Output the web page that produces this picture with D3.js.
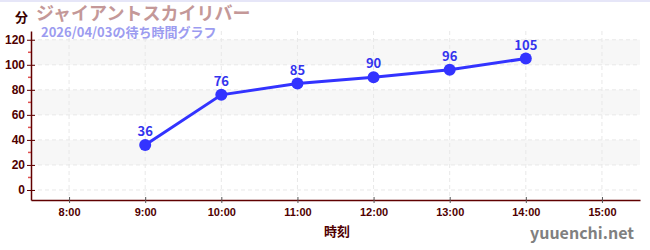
<!DOCTYPE html>
<html>
<head>
<meta charset="utf-8">
<script src="https://cdn.jsdelivr.net/npm/d3@7"></script>
<style>
  body { margin: 0; background: #fff; }
  svg { display: block; font-family: "Noto Sans CJK JP", "Noto Sans", sans-serif; }
</style>
</head>
<body>
<div id="chart"></div>
<script>
// wait times
var hours = [9, 10, 11, 12, 13, 14];
var waits = [36, 76, 85, 90, 96, 105];
var tickHours = [8, 9, 10, 11, 12, 13, 14, 15];
var yTicks = [0, 20, 40, 60, 80, 100, 120];
var minorTicks = [10, 30, 50, 70, 90, 110];
var bands = [[20, 40], [60, 80], [100, 120]];

var W = 650, H = 250;
var m = { left: 31, right: 10, top: 31, bottom: 50 };

var svg = d3.select("#chart").append("svg").attr("width", W).attr("height", H);

// thin top border
svg.append("rect").attr("x", 0).attr("y", 0).attr("width", W).attr("height", 2).attr("fill", "#e6e6f8");

var x = d3.scaleLinear().domain([7.5, 15.5]).range([m.left, W - m.right]);
var y = d3.scaleLinear().domain([-8, 127]).range([H - m.bottom, m.top]);

// background bands
svg.selectAll("rect.band").data(bands).enter().append("rect")
    .attr("class", "band")
    .attr("x", m.left).attr("width", W - m.right - m.left)
    .attr("y", function (d) { return y(d[1]); })
    .attr("height", function (d) { return y(d[0]) - y(d[1]); })
    .attr("fill", "#f7f7f7");

// grid lines
svg.selectAll("line.hgrid").data(yTicks).enter().append("line")
    .attr("x1", m.left).attr("x2", W - m.right)
    .attr("y1", function (d) { return y(d); }).attr("y2", function (d) { return y(d); })
    .attr("stroke", "#e8e8e8").attr("stroke-dasharray", "4,3");
svg.selectAll("line.vgrid").data(tickHours).enter().append("line")
    .attr("y1", m.top).attr("y2", H - m.bottom)
    .attr("x1", function (d) { return x(d); }).attr("x2", function (d) { return x(d); })
    .attr("stroke", "#e8e8e8").attr("stroke-dasharray", "4,3");

// minor y ticks (red)
svg.selectAll("line.minor").data(minorTicks).enter().append("line")
    .attr("x1", m.left - 3).attr("x2", m.left)
    .attr("y1", function (d) { return y(d); }).attr("y2", function (d) { return y(d); })
    .attr("stroke", "#e05050").attr("stroke-width", 1.5);

// axes
var yAxis = svg.append("g").attr("transform", "translate(" + m.left + ",0)")
    .call(d3.axisLeft(y).tickValues(yTicks).tickSize(4).tickSizeOuter(0));
yAxis.select(".domain").attr("stroke", "#600000").attr("stroke-width", 1.5);
yAxis.selectAll(".tick line").attr("stroke", "#600000").attr("x2", 4).attr("x1", -4);
yAxis.selectAll(".tick text").attr("fill", "#500000").attr("font-size", 12).attr("font-weight", "bold").attr("x", -6);

var xAxis = svg.append("g").attr("transform", "translate(0," + (H - m.bottom) + ")")
    .call(d3.axisBottom(x).tickValues(tickHours).tickSize(4).tickSizeOuter(0)
        .tickFormat(function (d) { return d + ":00"; }));
xAxis.select(".domain").attr("stroke", "#600000").attr("stroke-width", 1.5);
xAxis.selectAll(".tick line").attr("stroke", "#555").attr("y1", -3).attr("y2", 3);
xAxis.selectAll(".tick text").attr("fill", "#500000").attr("font-size", 11).attr("font-weight", "bold").attr("y", 8);

// line and points
var line = d3.line().x(function (d, i) { return x(hours[i]); }).y(function (d) { return y(d); });
svg.append("path").datum(waits).attr("d", line)
    .attr("fill", "none").attr("stroke", "#3333ff").attr("stroke-width", 3);
svg.selectAll("circle.pt").data(waits).enter().append("circle")
    .attr("cx", function (d, i) { return x(hours[i]); })
    .attr("cy", function (d) { return y(d); })
    .attr("r", 6).attr("fill", "#3333ff");
svg.selectAll("text.val").data(waits).enter().append("text")
    .attr("x", function (d, i) { return x(hours[i]); })
    .attr("y", function (d) { return y(d) - 9; })
    .attr("text-anchor", "middle").attr("font-size", 13).attr("font-weight", "bold")
    .attr("fill", "#3333ee").text(function (d) { return d; });

// titles and labels
svg.append("text").attr("x", 15).attr("y", 22).attr("font-size", 13).attr("font-weight", "bold")
    .attr("fill", "#3a0000").text("分");
svg.append("text").attr("x", 36).attr("y", 20).attr("font-size", 18).attr("font-weight", "bold")
    .attr("fill", "#c49898").text("ジャイアントスカイリバー");
svg.append("text").attr("x", 41).attr("y", 37).attr("font-size", 13).attr("font-weight", "bold")
    .attr("fill", "#9c9cf0").text("2026/04/03の待ち時間グラフ");
svg.append("text").attr("x", 337).attr("y", 236).attr("text-anchor", "middle").attr("font-size", 13)
    .attr("font-weight", "bold").attr("fill", "#500000").text("時刻");
svg.append("text").attr("x", 634).attr("y", 239).attr("text-anchor", "end").attr("font-size", 16)
    .attr("font-weight", "bold").attr("fill", "#808080").text("yuuenchi.net");
</script>
</body>
</html>
